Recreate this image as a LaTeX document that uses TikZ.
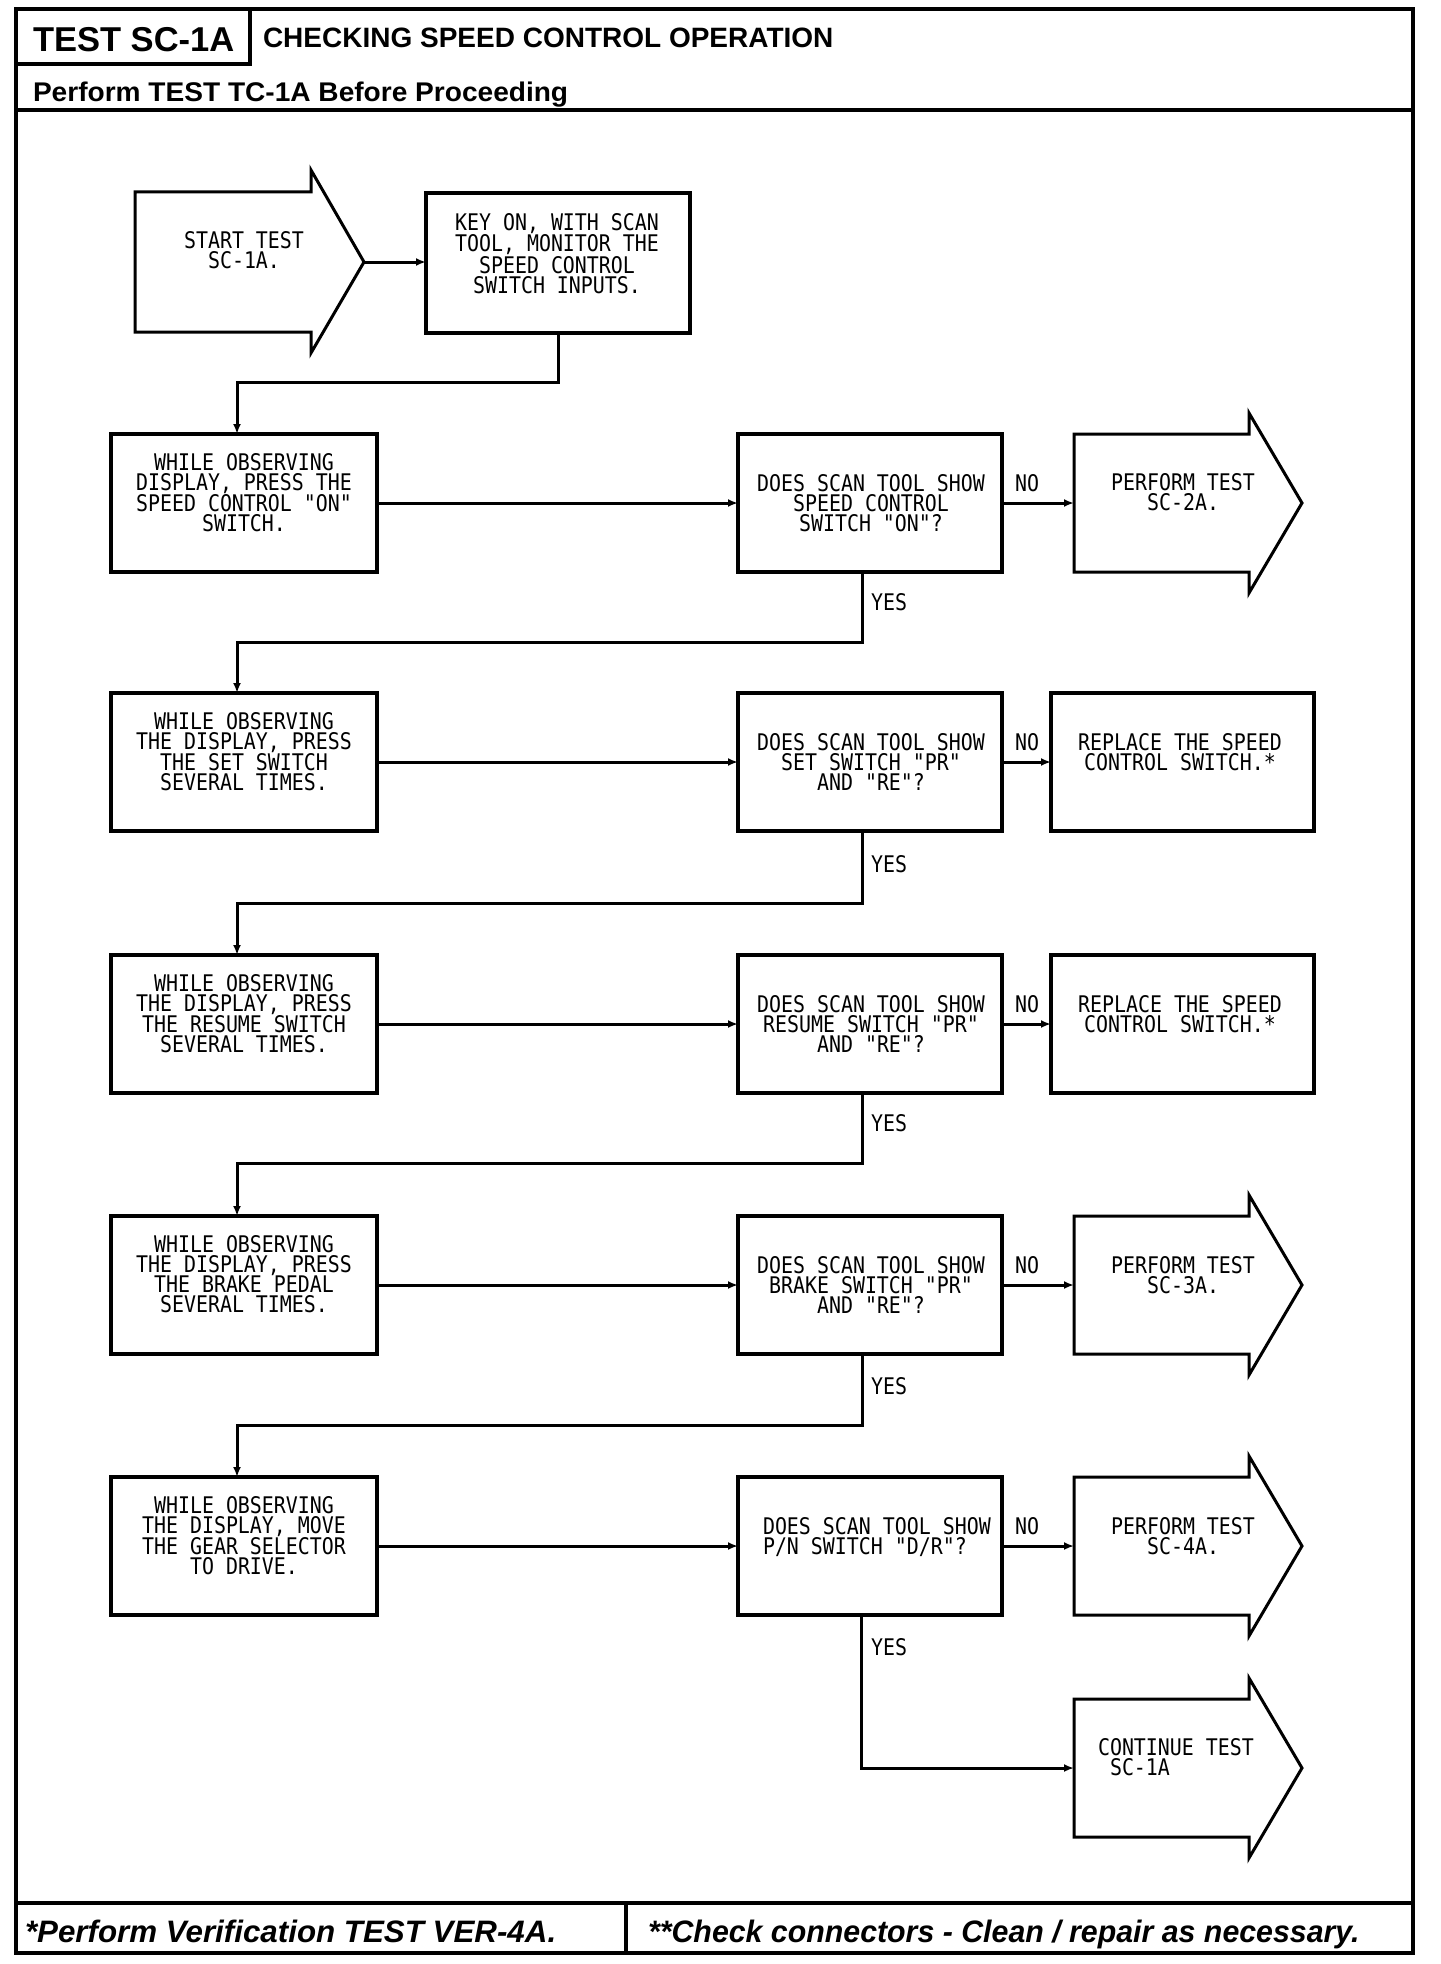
\documentclass[tikz,border=0pt]{standalone}
\usepackage{fontspec}
\usepackage{graphicx}
\usetikzlibrary{arrows.meta,calc}
\newfontfamily\plotfont[FakeStretch=0.87]{DejaVu Sans Mono}
\newfontfamily\hdrfont{Liberation Sans}
\newfontfamily\hdrwide[FakeStretch=1.04]{Liberation Sans}
\begin{document}
\begin{tikzpicture}[x=1pt,y=-1pt,
  box/.style={draw, line width=3.5pt, inner sep=0pt, outer sep=0pt, minimum height=138pt},
  lbox/.style={box, minimum width=266pt},
  dbox/.style={box, minimum width=264pt},
  rbox/.style={box, minimum width=263pt},
  abody/.style={inner sep=0pt, outer sep=0pt, minimum width=175pt, minimum height=138pt},
  ashape/.style={draw, line width=3pt, line join=miter},
  arr/.style={line width=3pt, -{Latex[length=10pt,width=8pt]}},
  txt/.style={font=\plotfont\fontsize{22.9}{20}\selectfont, inner sep=0pt, outer sep=0pt, align=center, anchor=north},
  lab/.style={font=\plotfont\fontsize{22.9}{20}\selectfont, inner sep=0pt, outer sep=0pt, anchor=center},
  frame/.style={line width=4pt},
  hdr/.style={inner sep=0pt, outer sep=0pt, anchor=base west},
]
\useasboundingbox (0,0) rectangle (1440,1964);
\fill[white] (0,0) rectangle (1440,1964);

% ---------- form frame ----------
\draw[frame] (16,9) rectangle (1413,1953);
\draw[frame] (250,9) -- (250,64) -- (16,64);
\draw[frame] (16,110) -- (1413,110);
\draw[frame] (16,1903) -- (1413,1903);
\draw[frame] (626,1903) -- (626,1953);

\node[hdr, font=\hdrfont\bfseries\fontsize{34.5}{36}\selectfont] (htest) at (33,52) {TEST SC-1A};
\node[hdr, font=\hdrfont\bfseries\fontsize{28}{30}\selectfont] (htitle) at (263,48) {CHECKING SPEED CONTROL OPERATION};
\node[hdr, font=\hdrwide\bfseries\fontsize{27}{30}\selectfont] (hpre) at (33,102) {Perform TEST TC-1A Before Proceeding};
\node[hdr, font=\hdrfont\bfseries\itshape\fontsize{31}{34}\selectfont] (fone) at (25,1942) {\scalebox{1.01}[1]{*Perform Verification TEST VER-4A.}};
\node[hdr, font=\hdrfont\bfseries\itshape\fontsize{31}{34}\selectfont] (ftwo) at (648,1942) {\scalebox{0.978}[1]{**Check connectors - Clean / repair as necessary.}};

% ---------- start ----------
\node[abody, minimum width=176pt, minimum height=140pt] (start) at (223,262) {};
\draw[ashape] (start.north west) -- (start.north east) -- ([yshift=22pt]start.north east)
  -- ([xshift=53pt]start.east) -- ([yshift=-21pt]start.south east) -- (start.south east)
  -- (start.south west) -- cycle;
\coordinate (sttip) at ([xshift=53pt]start.east);
\node[txt] (tstart) at (244,231.6) {START TEST\\SC-1A.};

\node[box, minimum width=264pt, minimum height=140pt] (key) at (558,263) {};
\node[txt] (tkey) at (557,213.6) {KEY ON, WITH SCAN\\TOOL, MONITOR THE\\SPEED CONTROL\\SWITCH INPUTS.};

% ---------- row 1 ----------
\node[lbox] (l1) at (244,503) {};
\node[dbox] (d1) at (870,503) {};
\node[abody] (p1) at (1161.5,503) {};
\draw[ashape] (p1.north west) -- (p1.north east) -- ([yshift=21pt]p1.north east)
  -- ([xshift=53pt]p1.east) -- ([yshift=-21pt]p1.south east) -- (p1.south east)
  -- (p1.south west) -- cycle;
\node[txt] (tl1) at (244,453.6) {WHILE OBSERVING\\DISPLAY, PRESS THE\\SPEED CONTROL "ON"\\SWITCH.};
\node[txt] (td1) at (871,474.6) {DOES SCAN TOOL SHOW\\SPEED CONTROL\\SWITCH "ON"?};
\node[txt] (tp1) at (1183,473.6) {PERFORM TEST\\SC-2A.};
\node[lab] (no1) at (1027,483) {NO};
\node[lab] (yes1) at (889,602) {YES};

% ---------- row 2 ----------
\node[lbox] (l2) at (244,762) {};
\node[dbox] (d2) at (870,762) {};
\node[rbox] (r2) at (1182.5,762) {};
\node[txt] (tl2) at (244,712.6) {WHILE OBSERVING\\THE DISPLAY, PRESS\\THE SET SWITCH\\SEVERAL TIMES.};
\node[txt] (td2) at (871,733.6) {DOES SCAN TOOL SHOW\\SET SWITCH "PR"\\AND "RE"?};
\node[txt] (tr2) at (1180,733.6) {REPLACE THE SPEED\\CONTROL SWITCH.*};
\node[lab] (no2) at (1027,742) {NO};
\node[lab] (yes2) at (889,864) {YES};

% ---------- row 3 ----------
\node[lbox] (l3) at (244,1024) {};
\node[dbox] (d3) at (870,1024) {};
\node[rbox] (r3) at (1182.5,1024) {};
\node[txt] (tl3) at (244,974.6) {WHILE OBSERVING\\THE DISPLAY, PRESS\\THE RESUME SWITCH\\SEVERAL TIMES.};
\node[txt] (td3) at (871,995.6) {DOES SCAN TOOL SHOW\\RESUME SWITCH "PR"\\AND "RE"?};
\node[txt] (tr3) at (1180,995.6) {REPLACE THE SPEED\\CONTROL SWITCH.*};
\node[lab] (no3) at (1027,1004) {NO};
\node[lab] (yes3) at (889,1123) {YES};

% ---------- row 4 ----------
\node[lbox] (l4) at (244,1285) {};
\node[dbox] (d4) at (870,1285) {};
\node[abody] (p4) at (1161.5,1285) {};
\draw[ashape] (p4.north west) -- (p4.north east) -- ([yshift=21pt]p4.north east)
  -- ([xshift=53pt]p4.east) -- ([yshift=-21pt]p4.south east) -- (p4.south east)
  -- (p4.south west) -- cycle;
\node[txt] (tl4) at (244,1235.6) {WHILE OBSERVING\\THE DISPLAY, PRESS\\THE BRAKE PEDAL\\SEVERAL TIMES.};
\node[txt] (td4) at (871,1256.6) {DOES SCAN TOOL SHOW\\BRAKE SWITCH "PR"\\AND "RE"?};
\node[txt] (tp4) at (1183,1256.6) {PERFORM TEST\\SC-3A.};
\node[lab] (no4) at (1027,1265) {NO};
\node[lab] (yes4) at (889,1386) {YES};

% ---------- row 5 ----------
\node[lbox] (l5) at (244,1546) {};
\node[dbox] (d5) at (870,1546) {};
\node[abody] (p5) at (1161.5,1546) {};
\draw[ashape] (p5.north west) -- (p5.north east) -- ([yshift=21pt]p5.north east)
  -- ([xshift=53pt]p5.east) -- ([yshift=-21pt]p5.south east) -- (p5.south east)
  -- (p5.south west) -- cycle;
\node[txt] (tl5) at (244,1496.6) {WHILE OBSERVING\\THE DISPLAY, MOVE\\THE GEAR SELECTOR\\TO DRIVE.};
\node[txt, align=left, anchor=north west] (td5) at (763,1517.6) {DOES SCAN TOOL SHOW\\P/N SWITCH "D/R"?};
\node[txt] (tp5) at (1183,1517.6) {PERFORM TEST\\SC-4A.};
\node[lab] (no5) at (1027,1526) {NO};
\node[lab] (yes5) at (889,1647) {YES};

% ---------- continue ----------
\node[abody] (cont) at (1161.5,1768) {};
\draw[ashape] (cont.north west) -- (cont.north east) -- ([yshift=21pt]cont.north east)
  -- ([xshift=53pt]cont.east) -- ([yshift=-21pt]cont.south east) -- (cont.south east)
  -- (cont.south west) -- cycle;
\node[txt, align=left, anchor=north west] (tcont) at (1098,1738.6) {CONTINUE TEST\\\hphantom{S}SC-1A};

% ---------- connectors ----------
\draw[arr] (sttip) -- (sttip -| key.west);
\draw[arr] (key.south) -- ++(0,49) -| ([xshift=-7pt]l1.north);

\draw[arr] (l1.east) -- (l1.east -| d1.west);
\draw[arr] (d1.east) -- (d1.east -| p1.west);
\draw[arr] ([xshift=-8pt]d1.south) -- ++(0,70) -| ([xshift=-7pt]l2.north);

\draw[arr] (l2.east) -- (l2.east -| d2.west);
\draw[arr] (d2.east) -- (d2.east -| r2.west);
\draw[arr] ([xshift=-8pt]d2.south) -- ++(0,72) -| ([xshift=-7pt]l3.north);

\draw[arr] (l3.east) -- (l3.east -| d3.west);
\draw[arr] (d3.east) -- (d3.east -| r3.west);
\draw[arr] ([xshift=-8pt]d3.south) -- ++(0,70) -| ([xshift=-7pt]l4.north);

\draw[arr] (l4.east) -- (l4.east -| d4.west);
\draw[arr] (d4.east) -- (d4.east -| p4.west);
\draw[arr] ([xshift=-8pt]d4.south) -- ++(0,71) -| ([xshift=-7pt]l5.north);

\draw[arr] (l5.east) -- (l5.east -| d5.west);
\draw[arr] (d5.east) -- (d5.east -| p5.west);
\draw[arr] ([xshift=-9pt]d5.south) |- (cont.west);
\end{tikzpicture}
\end{document}
